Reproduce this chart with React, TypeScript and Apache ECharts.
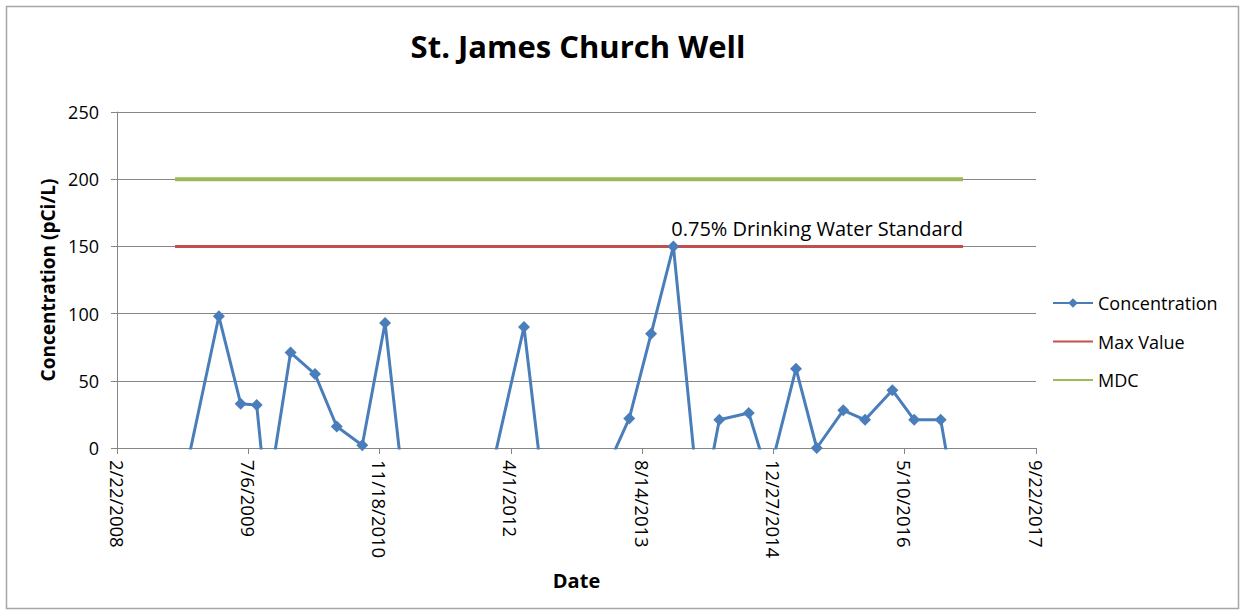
import React, { useEffect, useRef } from "react";
import * as echarts from "echarts";

// ---- data ----
const BASE_DATE = "2008-02-22";
const X_MAX_DAYS = 3500;
const X_TICK_DAYS = 500;

const sampleDates = [
  "2008-09-30", "2009-03-16", "2009-06-07", "2009-08-07", "2009-09-14",
  "2009-12-14", "2010-03-17", "2010-06-08", "2010-09-13", "2010-12-09",
  "2011-03-14", "2011-10-28", "2012-05-21", "2012-08-28", "2013-03-07",
  "2013-06-26", "2013-09-17", "2013-12-11", "2014-03-24", "2014-06-04",
  "2014-09-24", "2014-12-08", "2015-03-23", "2015-06-10", "2015-09-19",
  "2015-12-11", "2016-03-24", "2016-06-15", "2016-09-24", "2016-12-18",
];
const concentration = [
  -55, 98, 33, 32, -42,
  71, 55, 16, 2, 93,
  -73, -88, 90, -74, -26,
  22, 85, 150, -53, 21,
  26, -22, 59, 0, 28,
  21, 43, 21, 21, -74,
];
const limitDates = ["2008-09-30", "2016-12-18"];
const maxValue = [150, 150];
const mdcValue = [200, 200];
const maxValueLabel = "0.75% Drinking Water Standard";
const yMin = 0;
const yMax = 250;
const yStep = 50;

const DAY_MS = 86400000;
const baseMs = Date.parse(BASE_DATE + "T00:00:00Z");
const toDays = (d: string) => Math.round((Date.parse(d + "T00:00:00Z") - baseMs) / DAY_MS);
const fmtDay = (v: number) => {
  const dt = new Date(baseMs + Math.round(v) * DAY_MS);
  return `${dt.getUTCMonth() + 1}/${dt.getUTCDate()}/${dt.getUTCFullYear()}`;
};

const FONT = "Open Sans";

export default function App() {
  const ref = useRef<HTMLDivElement>(null);
  useEffect(() => {
    document.body.style.margin = "0";
    if (!ref.current) return;
    const chart = echarts.init(ref.current, null, { renderer: "svg" });
    const concData = sampleDates.map((d, i) => [toDays(d), concentration[i]]);
    const maxData = limitDates.map((d, i) =>
      i === limitDates.length - 1
        ? {
            value: [toDays(d), maxValue[i]],
            label: {
              show: true,
              position: "top",
              align: "right",
              distance: 8,
              formatter: maxValueLabel,
              fontFamily: FONT,
              fontSize: 20,
              color: "#000",
            },
          }
        : { value: [toDays(d), maxValue[i]] }
    );
    const mdcData = limitDates.map((d, i) => [toDays(d), mdcValue[i]]);

    chart.setOption({
      animation: false,
      backgroundColor: "#fff",
      title: {
        text: "St. James Church Well",
        left: 573,
        top: 25,
        textAlign: "center",
        textStyle: { fontFamily: FONT, fontSize: 31, fontWeight: "bold", color: "#000" },
      },
      graphic: [
        {
          type: "rect",
          shape: { x: 6.5, y: 6.5, width: 1232, height: 602 },
          style: { fill: "none", stroke: "#a6a6a6", lineWidth: 1.5 },
          silent: true,
        },
      ],
      legend: {
        orient: "vertical",
        left: 1047,
        top: 289,
        itemWidth: 40,
        itemHeight: 12,
        itemGap: 20.5,
        textStyle: { fontFamily: FONT, fontSize: 18, color: "#000" },
        data: [
          { name: "Concentration" },
          { name: "Max Value", itemStyle: { opacity: 0 } },
          { name: "MDC", itemStyle: { opacity: 0 } },
        ],
      },
      grid: { left: 117, right: 206, top: 112, bottom: 163, containLabel: false },
      xAxis: {
        type: "value",
        min: 0,
        max: X_MAX_DAYS,
        interval: X_TICK_DAYS,
        name: "Date",
        nameLocation: "middle",
        nameGap: 122,
        nameTextStyle: { fontFamily: FONT, fontSize: 20, fontWeight: "bold", color: "#000" },
        axisLine: { show: true, lineStyle: { color: "#868686", width: 1 } },
        axisTick: { show: true, length: 6, lineStyle: { color: "#868686" } },
        splitLine: { show: false },
        axisLabel: {
          rotate: -90,
          margin: 12,
          fontFamily: FONT,
          fontSize: 18.5,
          color: "#000",
          formatter: (v: number) => fmtDay(v),
        },
      },
      yAxis: {
        type: "value",
        min: yMin,
        max: yMax,
        interval: yStep,
        name: "Concentration (pCi/L)",
        nameLocation: "middle",
        nameGap: 58,
        nameTextStyle: { fontFamily: FONT, fontSize: 19, fontWeight: "bold", color: "#000" },
        axisLine: { show: true, lineStyle: { color: "#868686", width: 1 } },
        axisTick: { show: true, length: 6, lineStyle: { color: "#868686" } },
        splitLine: { show: true, lineStyle: { color: "#868686", width: 1 } },
        axisLabel: { margin: 18, fontFamily: FONT, fontSize: 18, color: "#000" },
      },
      series: [
        {
          name: "Concentration",
          type: "line",
          data: concData,
          clip: true,
          symbol: "diamond",
          symbolSize: 12,
          showAllSymbol: true,
          itemStyle: { color: "#4A7EBB" },
          lineStyle: { color: "#4A7EBB", width: 3 },
          z: 5,
        },
        {
          name: "Max Value",
          type: "line",
          data: maxData,
          symbol: "circle",
          symbolSize: 0,
          showSymbol: true,
          itemStyle: { color: "#C0504D" },
          lineStyle: { color: "#C0504D", width: 3 },
          z: 3,
        },
        {
          name: "MDC",
          type: "line",
          data: mdcData,
          symbol: "none",
          itemStyle: { color: "#9BBB59" },
          lineStyle: { color: "#9BBB59", width: 4 },
          z: 3,
        },
      ],
    });
    return () => chart.dispose();
  }, []);
  return <div ref={ref} style={{ width: 1242, height: 611 }} />;
}
